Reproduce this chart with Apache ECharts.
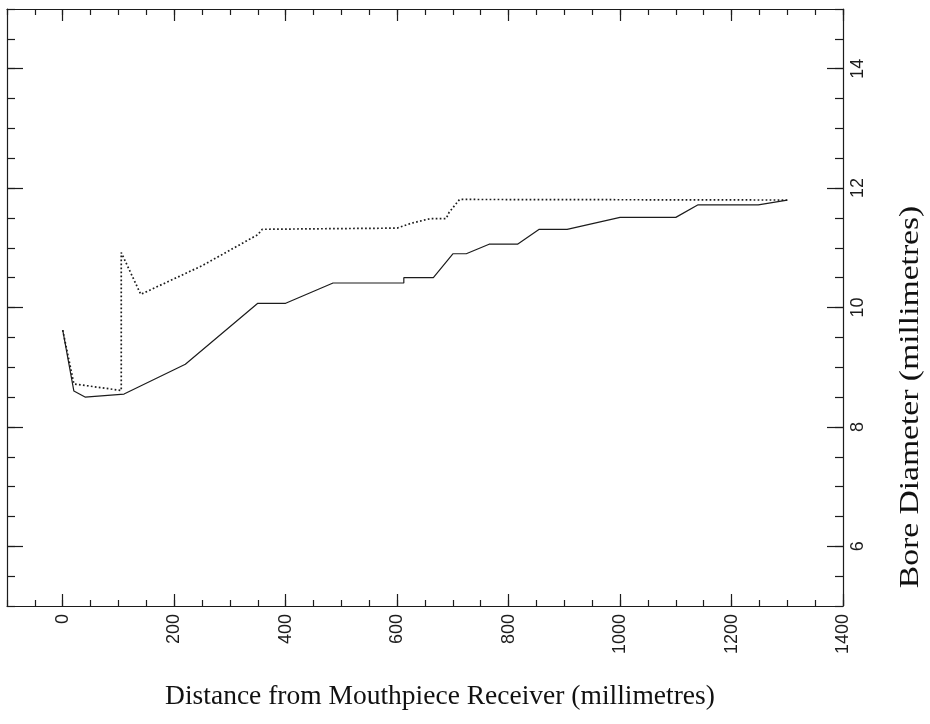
<!DOCTYPE html>
<html><head><meta charset="utf-8">
<script src="https://cdn.jsdelivr.net/npm/echarts@6/dist/echarts.min.js"></script>
<style>html,body{margin:0;padding:0;background:#fff}#c{width:930px;height:724px}</style>
</head><body><div id="c"></div>
<script>
// Solid curve: [distance mm, bore diameter mm]
const solidSeries = [
  [0, 9.62], [20, 8.6], [40, 8.5], [110, 8.55], [220, 9.05], [350, 10.07],
  [400, 10.07], [485, 10.41], [612, 10.41], [612, 10.5], [665, 10.5],
  [700, 10.9], [724, 10.9], [765, 11.06], [816, 11.06], [855, 11.31],
  [905, 11.31], [1000, 11.51], [1100, 11.51], [1140, 11.72], [1248, 11.72],
  [1300, 11.8]
];
// Dotted curve
const dottedSeries = [
  [0, 9.62], [20, 8.72], [105, 8.61], [105, 10.92], [140, 10.22], [250, 10.7],
  [350, 11.22], [358, 11.31], [600, 11.33], [625, 11.41], [660, 11.49],
  [688, 11.49], [693, 11.59], [712, 11.81], [1300, 11.8]
];
const xTickLabels = [0, 200, 400, 600, 800, 1000, 1200, 1400];
const yTickLabels = [6, 8, 10, 12, 14];
const xTitle = 'Distance from Mouthpiece Receiver (millimetres)';
const yTitle = 'Bore Diameter (millimetres)';

const X_MIN = -100, X_MAX = 1400, Y_MIN = 5, Y_MAX = 15;
const ink = '#1c1c1c';
const labelFont = { fontFamily: 'Liberation Sans', fontSize: 18, color: ink };
const plain = function (v) { return String(v); };

function xAx(pos, major, withLabels) {
  return {
    type: 'value', position: pos, min: X_MIN, max: X_MAX, interval: 50,
    axisLine: { show: !major, onZero: false, lineStyle: { color: ink, width: 1.2 } },
    axisTick: major
      ? { show: true, inside: true, length: 12, customValues: xTickLabels, lineStyle: { color: ink, width: 1.2 } }
      : { show: true, inside: true, length: 6, lineStyle: { color: ink, width: 1.2 } },
    axisLabel: withLabels
      ? Object.assign({ show: true, rotate: 90, margin: 8, customValues: xTickLabels, formatter: plain }, labelFont)
      : { show: false },
    splitLine: { show: false }
  };
}
function yAx(pos, major, withLabels) {
  return {
    type: 'value', position: pos, min: Y_MIN, max: Y_MAX, interval: 0.5,
    axisLine: { show: !major, onZero: false, lineStyle: { color: ink, width: 1.2 } },
    axisTick: major
      ? { show: true, inside: true, length: 16, customValues: yTickLabels, lineStyle: { color: ink, width: 1.2 } }
      : { show: true, inside: true, length: 8, lineStyle: { color: ink, width: 1.2 } },
    axisLabel: withLabels
      ? Object.assign({ show: true, rotate: 90, margin: 6, customValues: yTickLabels, formatter: plain }, labelFont)
      : { show: false },
    splitLine: { show: false }
  };
}

const chart = echarts.init(document.getElementById('c'), null, { renderer: 'canvas' });
chart.setOption({
  animation: false,
  backgroundColor: '#ffffff',
  grid: { left: 7, right: 87, top: 9, bottom: 118, containLabel: false, outerBoundsMode: 'none' },
  xAxis: [xAx('bottom', false, true), xAx('bottom', true, false), xAx('top', false, false), xAx('top', true, false)],
  yAxis: [yAx('right', false, true), yAx('right', true, false), yAx('left', false, false), yAx('left', true, false)],
  series: [
    {
      type: 'line', xAxisIndex: 0, yAxisIndex: 0, data: solidSeries,
      showSymbol: false, symbol: 'none',
      lineStyle: { color: ink, width: 1.2 }
    },
    {
      type: 'line', xAxisIndex: 0, yAxisIndex: 0, data: dottedSeries,
      showSymbol: false, symbol: 'none',
      lineStyle: { color: ink, width: 1.7, type: [1.7, 2.3] }
    }
  ],
  graphic: [
    {
      type: 'text', x: 440, y: 697,
      style: { text: xTitle, x: 0, y: 0, align: 'center', verticalAlign: 'middle',
               font: '27.5px "Liberation Serif"', fill: '#111' }
    },
    {
      type: 'text', x: 911, y: 397, rotation: Math.PI / 2, scaleX: 1.2,
      style: { text: yTitle, x: 0, y: 0, align: 'center', verticalAlign: 'middle',
               font: '28px "Liberation Serif"', fill: '#111' }
    }
  ]
});
</script>
</body></html>
